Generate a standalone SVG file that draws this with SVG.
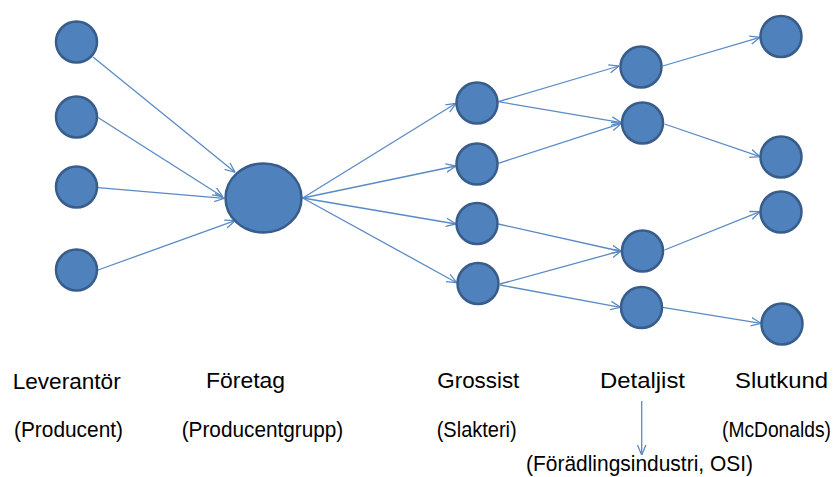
<svg xmlns="http://www.w3.org/2000/svg" width="838" height="477" viewBox="0 0 838 477">
<defs>
<style>
.n{fill:#4f81bd;stroke:#385d8a;stroke-width:2.5}
.e{stroke:#5a8ac6;stroke-width:1.3;fill:none;marker-end:url(#ah)}
.t{font-family:"Liberation Sans",Arial,sans-serif;font-size:22.5px;fill:#000}
</style>
<marker id="ah" viewBox="0 0 10 10" refX="10" refY="5" markerWidth="10" markerHeight="10" markerUnits="userSpaceOnUse" orient="auto">
<path d="M0,0.8 L10,5 L0,9.2" fill="none" stroke="#5a8ac6" stroke-width="1.3"/>
</marker>
</defs>
<rect width="838" height="477" fill="#fff"/>
<g id="connectors">
<line class="e" x1="93" y1="57" x2="235" y2="172.3"/>
<line class="e" x1="98" y1="117.5" x2="222.7" y2="196.7"/>
<line class="e" x1="98" y1="187.7" x2="224.3" y2="198.3"/>
<line class="e" x1="98" y1="270" x2="235" y2="220.7"/>
<line class="e" x1="302.7" y1="198" x2="456" y2="103.3"/>
<line class="e" x1="302.7" y1="198" x2="456" y2="166"/>
<line class="e" x1="302.7" y1="198" x2="456" y2="224"/>
<line class="e" x1="302.7" y1="198" x2="456.7" y2="282.7"/>
<line class="e" x1="498.3" y1="101.7" x2="619" y2="66"/>
<line class="e" x1="498.3" y1="101.7" x2="621.5" y2="122.7"/>
<line class="e" x1="498.3" y1="163.3" x2="621.5" y2="123.3"/>
<line class="e" x1="498.3" y1="224" x2="621.5" y2="251.5"/>
<line class="e" x1="500" y1="284" x2="621.5" y2="250.7"/>
<line class="e" x1="500" y1="285" x2="620.5" y2="307.3"/>
<line class="e" x1="662.7" y1="66" x2="760" y2="37.3"/>
<line class="e" x1="664.5" y1="124" x2="760" y2="156.7"/>
<line class="e" x1="664.5" y1="250" x2="760" y2="211.7"/>
<line class="e" x1="662.7" y1="307.3" x2="761" y2="323.3"/>
<line class="e" x1="641.7" y1="401" x2="641.7" y2="455"/>
</g>
<g id="lev1"><circle class="n" cx="76.5" cy="42" r="20.5"/></g>
<g id="lev2"><circle class="n" cx="76.5" cy="117" r="20.5"/></g>
<g id="lev3"><circle class="n" cx="76.5" cy="187" r="20.5"/></g>
<g id="lev4"><circle class="n" cx="76.5" cy="270" r="20.5"/></g>
<g id="foretag"><ellipse class="n" cx="263.5" cy="198" rx="38" ry="34.5"/></g>
<g id="gro1"><circle class="n" cx="477" cy="103" r="20.5"/></g>
<g id="gro2"><circle class="n" cx="477" cy="164" r="20.5"/></g>
<g id="gro3"><circle class="n" cx="477" cy="223.5" r="20.5"/></g>
<g id="gro4"><circle class="n" cx="478" cy="283.5" r="20.5"/></g>
<g id="det1"><circle class="n" cx="641" cy="67" r="20.5"/></g>
<g id="det2"><circle class="n" cx="642.5" cy="123" r="20.5"/></g>
<g id="det3"><circle class="n" cx="642.5" cy="251" r="20.5"/></g>
<g id="det4"><circle class="n" cx="641.5" cy="307.5" r="20.5"/></g>
<g id="slut1"><circle class="n" cx="781" cy="36.5" r="20.5"/></g>
<g id="slut2"><circle class="n" cx="781" cy="157" r="20.5"/></g>
<g id="slut3"><circle class="n" cx="781" cy="212" r="20.5"/></g>
<g id="slut4"><circle class="n" cx="782" cy="324" r="20.5"/></g>
<g id="labels">
<text class="t" x="12.7" y="389" textLength="108" lengthAdjust="spacingAndGlyphs">Leverantör</text>
<text class="t" x="206" y="388" textLength="79" lengthAdjust="spacingAndGlyphs">Företag</text>
<text class="t" x="437.3" y="388" textLength="82" lengthAdjust="spacingAndGlyphs">Grossist</text>
<text class="t" x="600" y="388" textLength="85" lengthAdjust="spacingAndGlyphs">Detaljist</text>
<text class="t" x="735" y="388" textLength="93" lengthAdjust="spacingAndGlyphs">Slutkund</text>
<text class="t" x="14" y="437" textLength="109" lengthAdjust="spacingAndGlyphs">(Producent)</text>
<text class="t" x="181.7" y="437" textLength="161.6" lengthAdjust="spacingAndGlyphs">(Producentgrupp)</text>
<text class="t" x="436.7" y="437" textLength="80" lengthAdjust="spacingAndGlyphs">(Slakteri)</text>
<text class="t" transform="translate(722 437) scale(0.855 1)">(McDonalds)</text>
<text class="t" x="526" y="471" textLength="227" lengthAdjust="spacingAndGlyphs">(Förädlingsindustri, OSI)</text>
</g>
</svg>
